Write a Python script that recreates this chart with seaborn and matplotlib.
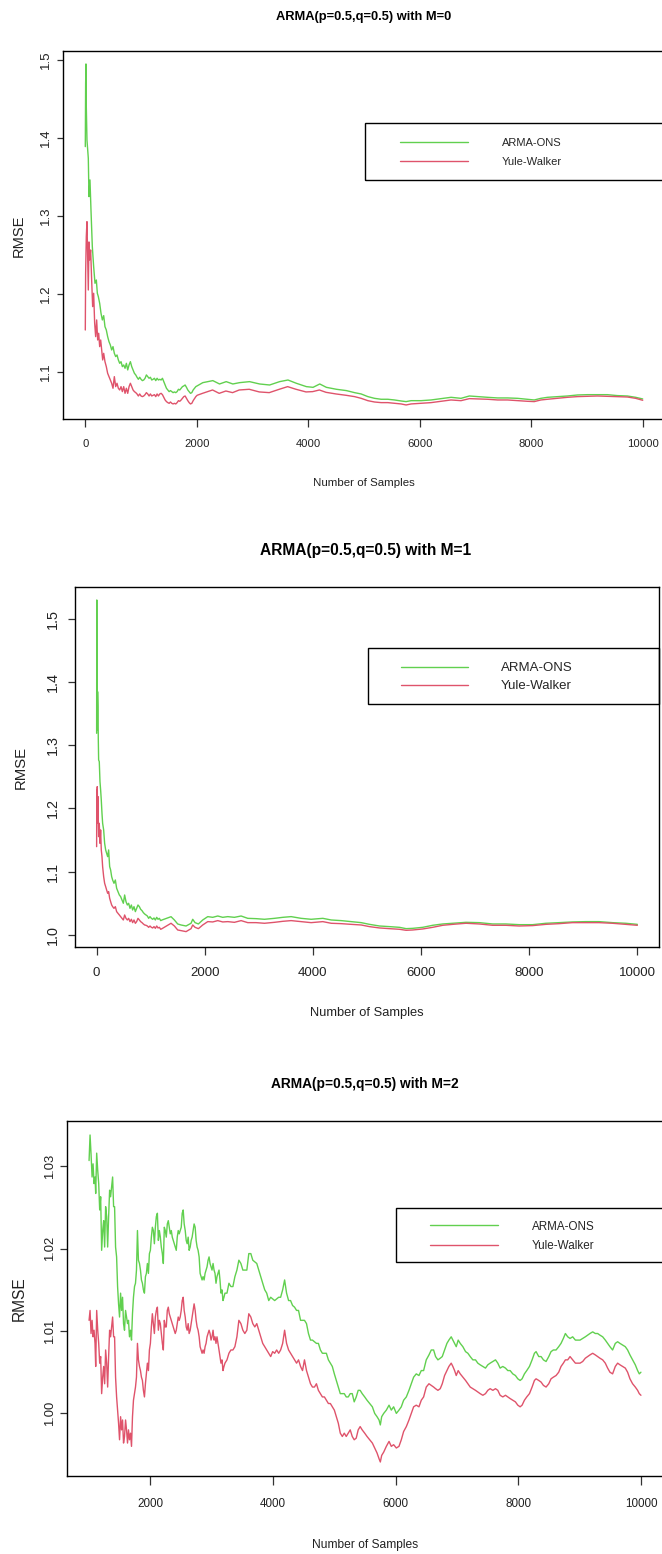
import matplotlib
matplotlib.use("Agg")
import matplotlib.pyplot as plt
import seaborn as sns
from matplotlib import font_manager
from matplotlib.patches import Rectangle
from matplotlib.lines import Line2D

# ---------------- data ----------------
series_names = ["ARMA-ONS", "Yule-Walker"]
titles = ["ARMA(p=0.5,q=0.5) with M=0", "ARMA(p=0.5,q=0.5) with M=1", "ARMA(p=0.5,q=0.5) with M=2"]
x_label = "Number of Samples"
y_label = "RMSE"

# Panel M=0
m0_ons_x = [0, 6, 12, 18, 30, 54, 66, 84, 102, 126, 150, 174, 198, 216, 234, 258, 282, 306, 330, 353,
            377, 401, 425, 449, 473, 497, 521, 545, 569, 593, 617, 641, 665, 689, 713, 737, 761, 785, 809, 833,
            857, 881, 905, 928, 952, 976, 1000, 1024, 1048, 1072, 1096, 1120, 1144, 1168, 1192, 1216, 1240, 1264, 1288, 1312,
            1336, 1360, 1384, 1408, 1432, 1456, 1480, 1504, 1528, 1552, 1575, 1599, 1623, 1647, 1671, 1695, 1719, 1743, 1767, 1791,
            1815, 1839, 1863, 1887, 1911, 1935, 1959, 1983,
            2108, 2288, 2408, 2528, 2647, 2767, 2947, 3127, 3307, 3486, 3636, 3786, 3966, 4086, 4206, 4325, 4505, 4685, 4830, 4949,
            5069, 5188, 5307, 5427, 5546, 5666, 5755, 5845, 6024, 6203, 6382, 6561, 6740, 6890, 7039, 7218, 7397, 7576, 7755, 7934,
            8054, 8173, 8292, 8472, 8651, 8830, 9009, 9188, 9367, 9546, 9725, 9874, 10000]
m0_ons = [1.3889, 1.4701, 1.4949, 1.4401, 1.3974, 1.3740, 1.3248, 1.3462, 1.3077, 1.2607,
          1.2350, 1.2137, 1.2179, 1.2009, 1.1966, 1.1880, 1.1752, 1.1667, 1.1722, 1.1581,
          1.1538, 1.1453, 1.1389, 1.1346, 1.1282, 1.1325, 1.1239, 1.1197, 1.1218, 1.1154,
          1.1111, 1.1132, 1.1068, 1.1090, 1.1047, 1.1111, 1.1026, 1.1090, 1.1132, 1.1068,
          1.1026, 1.0983, 1.0962, 1.0932, 1.0906, 1.0932, 1.0906, 1.0889, 1.0897, 1.0919,
          1.0962, 1.0940, 1.0919, 1.0932, 1.0897, 1.0906, 1.0919, 1.0889, 1.0919, 1.0897,
          1.0906, 1.0897, 1.0919, 1.0876, 1.0833, 1.0791, 1.0769, 1.0748, 1.0761, 1.0748,
          1.0735, 1.0744, 1.0735, 1.0748, 1.0778, 1.0769, 1.0791, 1.0812, 1.0821, 1.0833,
          1.0803, 1.0769, 1.0748, 1.0726, 1.0735, 1.0769, 1.0791, 1.0812,
          1.0863, 1.0889, 1.0846, 1.0876, 1.0846, 1.0863, 1.0876, 1.0846, 1.0833, 1.0876,
          1.0897, 1.0855, 1.0812, 1.0803, 1.0846, 1.0803, 1.0778, 1.0761, 1.0735, 1.0718,
          1.0684, 1.0662, 1.0650, 1.0650, 1.0641, 1.0628, 1.0620, 1.0632, 1.0632, 1.0641,
          1.0658, 1.0675, 1.0662, 1.0692, 1.0684, 1.0675, 1.0667, 1.0667, 1.0662, 1.0650,
          1.0641, 1.0662, 1.0675, 1.0684, 1.0692, 1.0705, 1.0709, 1.0709, 1.0709, 1.0697,
          1.0692, 1.0675, 1.0654]
m0_yw_x = [0, 6, 18, 30, 42, 54, 66, 78, 96, 114, 132, 150, 168, 186, 204, 222, 240, 258, 276, 294,
           312, 330, 353, 377, 401, 425, 449, 473, 497, 521, 545, 569, 593, 617, 641, 665, 689, 713, 737, 761,
           785, 809, 833, 857, 881, 905, 928, 952, 976, 1000, 1024, 1048, 1072, 1096, 1120, 1144, 1168, 1192, 1216, 1240,
           1264, 1288, 1312, 1336, 1360, 1384, 1408, 1432, 1456, 1480, 1504, 1528, 1552, 1575, 1599, 1623, 1647, 1671, 1695, 1719,
           1743, 1767, 1791, 1815, 1839, 1863, 1887, 1911, 1935, 1959, 1983, 2007,
           2103, 2283, 2402, 2522, 2642, 2761, 2941, 3121, 3300, 3480, 3630, 3780, 3959, 4079, 4199, 4319, 4498, 4678,
           4830, 4949, 5069, 5188, 5307, 5427, 5546, 5666, 5755, 5845, 6024, 6203, 6382, 6561, 6740, 6890, 7039, 7218,
           7397, 7576, 7755, 7934, 8054, 8173, 8292, 8472, 8651, 8830, 9009, 9188, 9367, 9546, 9725, 9874, 10000]
m0_yw = [1.1538, 1.2265, 1.2735, 1.2927, 1.2521, 1.2051, 1.2667, 1.2436, 1.2564, 1.2179,
         1.1838, 1.2009, 1.1624, 1.1453, 1.1667, 1.1410, 1.1496, 1.1325, 1.1410, 1.1282,
         1.1154, 1.1239, 1.1132, 1.1068, 1.0983, 1.0940, 1.0897, 1.0855, 1.0791, 1.0940,
         1.0812, 1.0855, 1.0791, 1.0769, 1.0812, 1.0748, 1.0812, 1.0726, 1.0791, 1.0726,
         1.0812, 1.0855, 1.0812, 1.0769, 1.0748, 1.0735, 1.0718, 1.0692, 1.0718, 1.0692,
         1.0684, 1.0692, 1.0709, 1.0735, 1.0718, 1.0692, 1.0718, 1.0692, 1.0701, 1.0709,
         1.0684, 1.0718, 1.0692, 1.0718, 1.0726, 1.0709, 1.0675, 1.0641, 1.0620, 1.0607,
         1.0598, 1.0615, 1.0598, 1.0590, 1.0598, 1.0590, 1.0607, 1.0632, 1.0624, 1.0641,
         1.0662, 1.0684, 1.0692, 1.0662, 1.0632, 1.0607, 1.0590, 1.0598, 1.0632, 1.0658,
         1.0684, 1.0701,
         1.0726, 1.0769, 1.0726, 1.0756, 1.0735, 1.0769, 1.0778, 1.0744, 1.0735, 1.0778,
         1.0812, 1.0778, 1.0744, 1.0748, 1.0769, 1.0739, 1.0718, 1.0701,
         1.0684, 1.0662, 1.0632, 1.0615, 1.0607, 1.0607, 1.0598, 1.0590, 1.0577, 1.0590,
         1.0598, 1.0607, 1.0624, 1.0641, 1.0632, 1.0658, 1.0654, 1.0650, 1.0641, 1.0641,
         1.0632, 1.0624, 1.0620, 1.0641, 1.0650, 1.0662, 1.0675, 1.0684, 1.0688, 1.0692,
         1.0688, 1.0684, 1.0679, 1.0662, 1.0637]

# Panel M=1 (both series read at the same sample positions)
m1_x = [0, 3, 6, 12, 18, 25, 31, 37, 49, 62, 74, 86, 99, 111, 130, 148, 167, 185, 204, 222,
        241, 259, 278, 296, 321, 346, 370, 395, 420, 444, 469, 494, 518, 543, 568, 592, 617, 642, 666, 691,
        716, 740, 765, 790, 814, 839, 864, 888, 913, 938, 962, 987, 1012, 1037, 1061, 1086, 1111, 1135, 1160, 1185,
        1209,
        1376, 1438, 1499, 1561, 1654, 1746, 1777, 1820, 1882, 1962, 2055, 2147, 2240, 2332, 2425, 2548, 2672, 2795, 2949, 3104,
        3289, 3443, 3597, 3782, 3967, 4183, 4338, 4523, 4708, 4893,
        5046, 5231, 5415, 5600, 5723, 5846, 6031, 6215, 6400, 6585, 6831, 7077, 7323, 7569, 7815, 8062, 8308, 8554, 8800, 9046,
        9292, 9538, 9785, 10000]
m1_ons = [1.3188, 1.5295, 1.3873, 1.3240, 1.3846, 1.3609, 1.3082, 1.2766, 1.2740, 1.2424,
          1.2292, 1.2134, 1.1923, 1.1765, 1.1660, 1.1449, 1.1344, 1.1291, 1.1238, 1.1344,
          1.1080, 1.1027, 1.0922, 1.0869, 1.0817, 1.0869, 1.0738, 1.0685, 1.0632, 1.0606,
          1.0553, 1.0501, 1.0632, 1.0527, 1.0474, 1.0501, 1.0421, 1.0474, 1.0395, 1.0448,
          1.0369, 1.0421, 1.0474, 1.0448, 1.0406, 1.0385, 1.0353, 1.0332, 1.0316, 1.0300,
          1.0263, 1.0290, 1.0263, 1.0248, 1.0269, 1.0237, 1.0279, 1.0248, 1.0263, 1.0227,
          1.0237,
          1.0289, 1.0237, 1.0174, 1.0158, 1.0142, 1.0185, 1.0248, 1.0195, 1.0174, 1.0237,
          1.0290, 1.0279, 1.0300, 1.0279, 1.0290, 1.0279, 1.0300, 1.0263, 1.0258, 1.0248,
          1.0263, 1.0279, 1.0290, 1.0263, 1.0248, 1.0263, 1.0237, 1.0227, 1.0211, 1.0195,
          1.0168, 1.0142, 1.0132, 1.0121, 1.0100, 1.0105, 1.0121, 1.0153, 1.0174, 1.0185,
          1.0200, 1.0195, 1.0174, 1.0174, 1.0163, 1.0163, 1.0185, 1.0195, 1.0206, 1.0211,
          1.0211, 1.0195, 1.0185, 1.0168]
m1_yw = [1.1396, 1.2292, 1.2134, 1.2345, 1.1765, 1.2187, 1.1818, 1.1554, 1.1765, 1.1449,
         1.1660, 1.1344, 1.1238, 1.1080, 1.0922, 1.0817, 1.0764, 1.0711, 1.0659, 1.0685,
         1.0580, 1.0527, 1.0474, 1.0448, 1.0421, 1.0448, 1.0369, 1.0342, 1.0316, 1.0290,
         1.0263, 1.0237, 1.0316, 1.0263, 1.0237, 1.0263, 1.0211, 1.0248, 1.0195, 1.0237,
         1.0184, 1.0211, 1.0263, 1.0237, 1.0211, 1.0195, 1.0174, 1.0158, 1.0153, 1.0142,
         1.0121, 1.0142, 1.0121, 1.0111, 1.0132, 1.0105, 1.0142, 1.0111, 1.0121, 1.0090,
         1.0100,
         1.0185, 1.0142, 1.0079, 1.0069, 1.0053, 1.0100, 1.0158, 1.0121, 1.0100, 1.0158,
         1.0211, 1.0206, 1.0227, 1.0206, 1.0211, 1.0200, 1.0227, 1.0195, 1.0195, 1.0185,
         1.0200, 1.0216, 1.0227, 1.0211, 1.0195, 1.0211, 1.0185, 1.0179, 1.0168, 1.0158,
         1.0132, 1.0111, 1.0100, 1.0090, 1.0074, 1.0079, 1.0095, 1.0121, 1.0153, 1.0168,
         1.0185, 1.0174, 1.0153, 1.0153, 1.0142, 1.0148, 1.0168, 1.0179, 1.0195, 1.0195,
         1.0195, 1.0185, 1.0168, 1.0153]

# Panel M=2 (both series read at the same sample positions)
m2_x = [1000, 1016, 1032, 1049, 1065, 1081, 1097, 1108, 1124, 1141, 1157, 1173, 1189, 1205, 1222, 1238, 1254, 1270, 1287, 1303,
        1319, 1335, 1351, 1368, 1384, 1400, 1416, 1432, 1449, 1465, 1481, 1497, 1514, 1530, 1546, 1562, 1578, 1595, 1611, 1627,
        1643, 1659, 1676, 1692, 1708, 1724, 1741, 1757, 1773, 1789, 1805, 1822, 1838, 1854, 1870, 1886, 1903, 1919, 1935, 1951,
        1968, 1984, 2000, 2016, 2032, 2049, 2065, 2081, 2097, 2114, 2130, 2146, 2162, 2178, 2195, 2211, 2227, 2243, 2259, 2276,
        2292, 2308, 2324, 2341, 2357, 2373, 2389, 2405, 2422, 2438, 2454, 2470, 2486, 2503, 2519, 2535, 2551, 2568, 2584, 2600,
        2616, 2632, 2649, 2665, 2681, 2697, 2713, 2730, 2746, 2762, 2778, 2795, 2811, 2827, 2843, 2859, 2876, 2892, 2908, 2924,
        2941, 2957, 2973, 2989, 3005, 3022, 3038, 3054, 3070, 3086, 3103, 3119, 3135, 3151, 3168, 3184, 3200,
        3216, 3249, 3281, 3313, 3346, 3378, 3411, 3443, 3476, 3508, 3540, 3573, 3605, 3638, 3670, 3703, 3735, 3767, 3800, 3832,
        3865, 3897, 3930, 3962, 3994, 4027, 4059, 4092, 4124, 4157, 4189, 4221, 4254, 4286, 4319, 4351, 4384, 4416, 4449, 4481,
        4513, 4546, 4578, 4611, 4643, 4676, 4708, 4740, 4773, 4805, 4838, 4870, 4903, 4935, 4967, 5000, 5032, 5065, 5097, 5130,
        5162, 5194, 5227, 5259, 5292, 5324, 5357, 5389, 5421, 5454,
        5495, 5533, 5577, 5620, 5658, 5696, 5729, 5750, 5772, 5805, 5848, 5892, 5929, 5967, 6011, 6054, 6092, 6130, 6174, 6217,
        6255, 6293, 6336, 6380, 6418, 6456, 6499, 6543, 6581, 6619, 6651, 6689, 6727, 6760, 6798, 6836, 6868, 6906, 6933, 6961,
        6988, 7020, 7053, 7096, 7140, 7178, 7216, 7259, 7302, 7340, 7378, 7422, 7465, 7503, 7541, 7585, 7628, 7666, 7704, 7747,
        7791, 7829, 7867, 7910, 7953, 7992, 8030, 8062, 8100, 8138, 8182, 8225, 8263, 8290, 8334, 8372, 8410, 8453, 8497, 8534,
        8572, 8616, 8659, 8697, 8735, 8768, 8806, 8844, 8887, 8931, 8969, 9007, 9050, 9093, 9131, 9169, 9213, 9256, 9294, 9332,
        9376, 9419, 9457, 9495, 9538, 9582, 9620, 9658, 9701, 9745, 9783, 9821, 9864, 9908, 9946, 9973, 10000]
m2_ons = [1.0307, 1.0338, 1.0315, 1.0287, 1.0303, 1.0279, 1.0287, 1.0267, 1.0316, 1.0295,
          1.0279, 1.0247, 1.0263, 1.0198, 1.0222, 1.0234, 1.0202, 1.0251, 1.0239, 1.0202,
          1.0239, 1.0271, 1.0263, 1.0275, 1.0287, 1.0251, 1.0251, 1.0202, 1.0190, 1.0154,
          1.0133, 1.0117, 1.0146, 1.0125, 1.0141, 1.0109, 1.0101, 1.0125, 1.0117, 1.0109,
          1.0113, 1.0093, 1.0101, 1.0089, 1.0121, 1.0141, 1.0154, 1.0158, 1.0174, 1.0222,
          1.0186, 1.0182, 1.0174, 1.0162, 1.0158, 1.0150, 1.0146, 1.0166, 1.0170, 1.0182,
          1.0170, 1.0194, 1.0198, 1.0214, 1.0226, 1.0222, 1.0206, 1.0226, 1.0239, 1.0243,
          1.0210, 1.0222, 1.0214, 1.0202, 1.0194, 1.0182, 1.0226, 1.0222, 1.0214, 1.0230,
          1.0234, 1.0226, 1.0218, 1.0222, 1.0214, 1.0210, 1.0206, 1.0202, 1.0198, 1.0214,
          1.0222, 1.0218, 1.0222, 1.0226, 1.0243, 1.0247, 1.0230, 1.0222, 1.0210, 1.0206,
          1.0214, 1.0198, 1.0202, 1.0210, 1.0214, 1.0222, 1.0230, 1.0226, 1.0210, 1.0202,
          1.0198, 1.0190, 1.0170, 1.0166, 1.0162, 1.0166, 1.0162, 1.0170, 1.0174, 1.0178,
          1.0186, 1.0190, 1.0182, 1.0178, 1.0174, 1.0182, 1.0174, 1.0170, 1.0158, 1.0166,
          1.0170, 1.0174, 1.0162, 1.0146, 1.0150, 1.0137, 1.0141,
          1.0146, 1.0146, 1.0158, 1.0154, 1.0154, 1.0166, 1.0174, 1.0186, 1.0182, 1.0174,
          1.0174, 1.0174, 1.0194, 1.0194, 1.0186, 1.0184, 1.0182, 1.0174, 1.0166, 1.0158,
          1.0150, 1.0146, 1.0137, 1.0141, 1.0139, 1.0137, 1.0139, 1.0141, 1.0141, 1.0150,
          1.0162, 1.0146, 1.0137, 1.0137, 1.0131, 1.0129, 1.0125, 1.0125, 1.0113, 1.0113,
          1.0113, 1.0109, 1.0097, 1.0089, 1.0089, 1.0087, 1.0085, 1.0085, 1.0077, 1.0073,
          1.0073, 1.0073, 1.0065, 1.0061, 1.0057, 1.0048, 1.0040, 1.0032, 1.0024, 1.0024,
          1.0024, 1.0020, 1.0020, 1.0024, 1.0024, 1.0014, 1.0020, 1.0028, 1.0028, 1.0024,
          1.0020, 1.0016, 1.0012, 1.0008, 1.0000, 0.9996, 0.9992, 0.9986, 0.9996, 1.0000,
          1.0004, 1.0010, 1.0004, 1.0008, 1.0000, 1.0004, 1.0008, 1.0016, 1.0020, 1.0028,
          1.0036, 1.0044, 1.0048, 1.0046, 1.0052, 1.0052, 1.0065, 1.0071, 1.0077, 1.0077,
          1.0069, 1.0065, 1.0067, 1.0069, 1.0077, 1.0085, 1.0089, 1.0093, 1.0089, 1.0085,
          1.0081, 1.0089, 1.0085, 1.0081, 1.0075, 1.0073, 1.0069, 1.0065, 1.0065, 1.0061,
          1.0059, 1.0057, 1.0055, 1.0059, 1.0061, 1.0063, 1.0065, 1.0061, 1.0055, 1.0057,
          1.0055, 1.0052, 1.0052, 1.0048, 1.0046, 1.0042, 1.0040, 1.0042, 1.0048, 1.0052,
          1.0057, 1.0065, 1.0073, 1.0075, 1.0069, 1.0069, 1.0065, 1.0063, 1.0069, 1.0075,
          1.0077, 1.0077, 1.0081, 1.0085, 1.0091, 1.0097, 1.0093, 1.0091, 1.0093, 1.0089,
          1.0089, 1.0089, 1.0091, 1.0093, 1.0095, 1.0097, 1.0099, 1.0097, 1.0097, 1.0095,
          1.0093, 1.0089, 1.0085, 1.0081, 1.0077, 1.0085, 1.0087, 1.0085, 1.0083, 1.0081,
          1.0077, 1.0071, 1.0065, 1.0059, 1.0052, 1.0048, 1.0050]
m2_yw = [1.0113, 1.0125, 1.0097, 1.0113, 1.0093, 1.0101, 1.0085, 1.0057, 1.0125, 1.0101,
         1.0085, 1.0061, 1.0069, 1.0024, 1.0044, 1.0057, 1.0036, 1.0077, 1.0061, 1.0032,
         1.0069, 1.0101, 1.0093, 1.0105, 1.0117, 1.0093, 1.0093, 1.0044, 1.0020, 1.0004,
         0.9988, 0.9968, 0.9996, 0.9980, 0.9992, 0.9964, 0.9972, 0.9992, 0.9980, 0.9964,
         0.9980, 0.9968, 0.9976, 0.9960, 0.9996, 1.0016, 1.0024, 1.0032, 1.0044, 1.0085,
         1.0065, 1.0057, 1.0052, 1.0044, 1.0040, 1.0028, 1.0020, 1.0036, 1.0048, 1.0061,
         1.0052, 1.0077, 1.0085, 1.0105, 1.0121, 1.0109, 1.0097, 1.0117, 1.0125, 1.0129,
         1.0101, 1.0113, 1.0109, 1.0097, 1.0085, 1.0077, 1.0113, 1.0105, 1.0105, 1.0125,
         1.0129, 1.0121, 1.0117, 1.0113, 1.0109, 1.0105, 1.0101, 1.0097, 1.0101, 1.0109,
         1.0117, 1.0113, 1.0117, 1.0125, 1.0137, 1.0141, 1.0125, 1.0117, 1.0105, 1.0101,
         1.0109, 1.0097, 1.0101, 1.0109, 1.0117, 1.0125, 1.0133, 1.0125, 1.0113, 1.0105,
         1.0101, 1.0093, 1.0081, 1.0077, 1.0073, 1.0077, 1.0073, 1.0081, 1.0085, 1.0093,
         1.0097, 1.0101, 1.0097, 1.0089, 1.0093, 1.0101, 1.0089, 1.0093, 1.0085, 1.0093,
         1.0085, 1.0077, 1.0069, 1.0061, 1.0065, 1.0052, 1.0057,
         1.0061, 1.0065, 1.0073, 1.0077, 1.0077, 1.0081, 1.0093, 1.0113, 1.0109, 1.0101,
         1.0097, 1.0101, 1.0121, 1.0117, 1.0109, 1.0105, 1.0109, 1.0101, 1.0093, 1.0085,
         1.0081, 1.0077, 1.0073, 1.0069, 1.0075, 1.0073, 1.0077, 1.0073, 1.0077, 1.0085,
         1.0101, 1.0085, 1.0077, 1.0073, 1.0069, 1.0065, 1.0061, 1.0065, 1.0057, 1.0052,
         1.0065, 1.0052, 1.0044, 1.0036, 1.0032, 1.0032, 1.0036, 1.0028, 1.0024, 1.0020,
         1.0020, 1.0016, 1.0012, 1.0012, 1.0008, 1.0004, 0.9996, 0.9988, 0.9976, 0.9972,
         0.9976, 0.9972, 0.9976, 0.9980, 0.9972, 0.9968, 0.9970, 0.9980, 0.9984, 0.9980,
         0.9976, 0.9972, 0.9968, 0.9964, 0.9958, 0.9952, 0.9945, 0.9941, 0.9949, 0.9953,
         0.9960, 0.9966, 0.9960, 0.9962, 0.9958, 0.9960, 0.9968, 0.9978, 0.9984, 0.9992,
         1.0000, 1.0008, 1.0010, 1.0008, 1.0016, 1.0020, 1.0032, 1.0036, 1.0034, 1.0032,
         1.0030, 1.0028, 1.0030, 1.0036, 1.0046, 1.0052, 1.0057, 1.0061, 1.0057, 1.0052,
         1.0046, 1.0052, 1.0048, 1.0044, 1.0040, 1.0036, 1.0032, 1.0030, 1.0028, 1.0026,
         1.0024, 1.0022, 1.0024, 1.0028, 1.0030, 1.0028, 1.0030, 1.0028, 1.0022, 1.0020,
         1.0022, 1.0020, 1.0018, 1.0016, 1.0014, 1.0010, 1.0008, 1.0010, 1.0016, 1.0020,
         1.0024, 1.0032, 1.0040, 1.0042, 1.0040, 1.0038, 1.0034, 1.0032, 1.0036, 1.0042,
         1.0044, 1.0046, 1.0050, 1.0057, 1.0061, 1.0065, 1.0065, 1.0069, 1.0065, 1.0061,
         1.0061, 1.0061, 1.0063, 1.0067, 1.0069, 1.0071, 1.0073, 1.0071, 1.0069, 1.0067,
         1.0065, 1.0061, 1.0055, 1.0050, 1.0048, 1.0057, 1.0061, 1.0059, 1.0057, 1.0055,
         1.0050, 1.0042, 1.0036, 1.0032, 1.0028, 1.0024, 1.0022]

x_ticks_full = [0, 2000, 4000, 6000, 8000, 10000]
x_ticks_m2 = [2000, 4000, 6000, 8000, 10000]
y_ticks_m0 = [1.1, 1.2, 1.3, 1.4, 1.5]
y_ticks_m1 = [1.0, 1.1, 1.2, 1.3, 1.4, 1.5]
y_ticks_m2 = [1.00, 1.01, 1.02, 1.03]

# ---------------- style ----------------
sns.set_style("ticks")
names = {f.name for f in font_manager.fontManager.ttflist}
HAS_NARROW = "Liberation Sans Narrow" in names
NARROW = "Liberation Sans Narrow" if HAS_NARROW else "Liberation Sans"
NSCALE = 1.0 if HAS_NARROW else 0.88
REG = "Liberation Sans"
plt.rcParams["font.family"] = [REG, "DejaVu Sans"]

GREEN = "#61D04F"
RED = "#DF536B"
TXT = "#222222"
LW = 1.0

W, H = 662, 1554
fig = plt.figure(figsize=(W / 100, H / 100), dpi=100)
fig.patch.set_facecolor("white")


def fx(px):
    return px / W


def fy(py):
    return 1 - py / H


panels = [
    dict(xo=m0_ons_x, yo=m0_ons, xr=m0_yw_x, yr=m0_yw, box=(63, 51, 665, 419),
         xlim=(-400, 10400), ylim=(1.0397, 1.5115), xticks=x_ticks_full, yticks=y_ticks_m0, yfmt="{:.1f}",
         title=titles[0], title_xy=(364, 17), xl_xy=(364, 483), yl_xy=(19, 236),
         title_fs=10.6, xl_fs=9.4, xt_fs=9.2, leg_fs=9.1, yt_fs=9.5, yl_fs=10.5,
         xt_len=6.0, xt_pad=8.6, yt_len=4.3, yt_pad=3.6,
         leg_box=(365, 123, 665, 180), leg_line=(400, 468), leg_rows=(142, 161), leg_tx=502),
    dict(xo=m1_x, yo=m1_ons, xr=m1_x, yr=m1_yw, box=(75, 587, 659, 947),
         xlim=(-400, 10400), ylim=(0.981, 1.550), xticks=x_ticks_full, yticks=y_ticks_m1, yfmt="{:.1f}",
         title=titles[1], title_xy=(366, 551), xl_xy=(367, 1013), yl_xy=(21, 767),
         title_fs=12.7, xl_fs=10.5, xt_fs=10.8, leg_fs=10.8, yt_fs=10.4, yl_fs=10.7,
         xt_len=5.5, xt_pad=9.0, yt_len=5.4, yt_pad=5.6,
         leg_box=(368, 648, 659, 704), leg_line=(401, 468), leg_rows=(667, 685), leg_tx=501),
    dict(xo=m2_x, yo=m2_ons, xr=m2_x, yr=m2_yw, box=(67, 1121, 663, 1476),
         xlim=(640, 10360), ylim=(0.9924, 1.0355), xticks=x_ticks_m2, yticks=y_ticks_m2, yfmt="{:.2f}",
         title=titles[2], title_xy=(365, 1084), xl_xy=(365, 1545), yl_xy=(19, 1299),
         title_fs=11.3, xl_fs=9.8, xt_fs=9.5, leg_fs=9.5, yt_fs=9.4, yl_fs=11.2,
         xt_len=6.5, xt_pad=9.6, yt_len=4.7, yt_pad=3.3,
         leg_box=(396, 1208, 663, 1262), leg_line=(430, 498), leg_rows=(1226, 1244), leg_tx=532),
]

for p in panels:
    l, t, r, b = p["box"]
    ax = fig.add_axes([fx(l), fy(b), (r - l) / W, (b - t) / H])
    ax.set_facecolor("white")
    sns.lineplot(x=p["xo"], y=p["yo"], ax=ax, color=GREEN, linewidth=LW,
                 estimator=None, sort=False, legend=False)
    sns.lineplot(x=p["xr"], y=p["yr"], ax=ax, color=RED, linewidth=LW,
                 estimator=None, sort=False, legend=False)
    ax.set_xlim(*p["xlim"])
    ax.set_ylim(*p["ylim"])
    for sp in ax.spines.values():
        sp.set_visible(True)
        sp.set_color("black")
        sp.set_linewidth(1.0)

    ax.set_xticks(p["xticks"])
    ax.set_xticklabels([str(v) for v in p["xticks"]], fontfamily=NARROW,
                       fontsize=p["xt_fs"] * NSCALE, color=TXT)
    ax.set_yticks(p["yticks"])
    ax.set_yticklabels([p["yfmt"].format(v) for v in p["yticks"]], fontfamily=REG,
                       fontsize=p["yt_fs"], color=TXT, rotation=90, va="center", ha="right")
    ax.tick_params(axis="x", direction="out", length=p["xt_len"], width=0.9,
                   color="#333333", pad=p["xt_pad"])
    ax.tick_params(axis="y", direction="out", length=p["yt_len"], width=0.9,
                   color="#333333", pad=p["yt_pad"])

    # axis labels
    ax.set_xlabel(x_label, fontfamily=NARROW, fontsize=p["xl_fs"] * NSCALE, color=TXT, va="center")
    ax.xaxis.set_label_coords(fx(p["xl_xy"][0]), fy(p["xl_xy"][1]), transform=fig.transFigure)
    ax.set_ylabel(y_label, fontfamily=REG, fontsize=p["yl_fs"], color=TXT, va="center", ha="center")
    ax.yaxis.set_label_coords(fx(p["yl_xy"][0]), fy(p["yl_xy"][1]), transform=fig.transFigure)

    # title
    fig.text(fx(p["title_xy"][0]), fy(p["title_xy"][1]), p["title"], ha="center", va="center",
             fontfamily=NARROW, fontweight="bold", fontsize=p["title_fs"] * NSCALE, color="black")

    # legend (box drawn separately, R-style)
    lf = p["leg_fs"] * NSCALE
    fs_px = lf * 100 / 72
    x0, x1 = p["leg_line"]
    r1, r2 = p["leg_rows"]
    pitch = r2 - r1
    row_h = 0.94 * fs_px
    handles = [Line2D([], [], color=GREEN, linewidth=LW), Line2D([], [], color=RED, linewidth=LW)]
    ax.legend(handles, series_names, loc="center left",
              bbox_to_anchor=(fx(x0), fy((r1 + r2) / 2 + 0.09 * fs_px)),
              bbox_transform=fig.transFigure, frameon=False, borderpad=0, borderaxespad=0,
              handlelength=(x1 - x0) / fs_px, handletextpad=(p["leg_tx"] - x1) / fs_px,
              labelspacing=max(pitch - row_h, 0) / fs_px,
              prop={"family": NARROW, "size": lf})
    bl, bt, br, bb = p["leg_box"]
    fig.add_artist(Rectangle((fx(bl), fy(bb)), (br - bl) / W, (bb - bt) / H,
                             transform=fig.transFigure, fill=False, edgecolor="black", linewidth=1.0))

fig.savefig("out.png", dpi=100, facecolor="white")
